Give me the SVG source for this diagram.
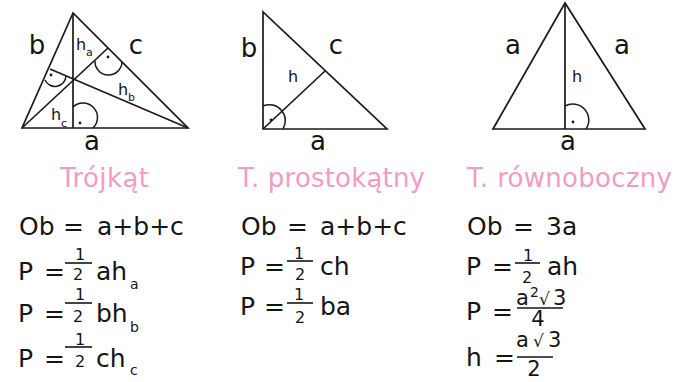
<svg xmlns="http://www.w3.org/2000/svg" width="677" height="382" viewBox="0 0 677 382">
<style>
.ln{fill:none;stroke:#1a1a1a;stroke-width:1.7;stroke-linejoin:miter}
.mk{fill:none;stroke:#1a1a1a;stroke-width:1.5}
.dot{fill:#1a1a1a}
text{font-family:"DejaVu Sans","Liberation Sans",sans-serif;fill:#151515}
.lbl{font-size:26px;text-anchor:middle}
.hl{font-size:16px}
.sub{font-size:11px}
.ttl{font-size:26px;fill:#F09CC3}
.f{font-size:25px}
.fs{font-size:14px}
.dg{font-size:16px;text-anchor:middle}
.nm{font-size:21px}
.rt{font-size:17px}
.bar{stroke:#151515;stroke-width:1.6}
</style>

<g id="tri1">
  <polygon class="ln" points="73,13 22,128 188,128"/>
  <line class="ln" x1="73" y1="13" x2="73" y2="128"/>
  <line class="ln" x1="188" y1="128" x2="50" y2="69"/>
  <line class="ln" x1="22" y1="128" x2="108" y2="48"/>
  <path class="mk" d="M73,107 A14.5 14.5 0 0 1 93,128"/>
  <path class="mk" d="M45,80 A11 11 0 0 0 66,76"/>
  <path class="mk" d="M95,61 A13 13 0 0 0 122,62"/>
  <circle class="dot" cx="80" cy="123" r="1.4"/>
  <circle class="dot" cx="51" cy="75" r="1.4"/>
  <circle class="dot" cx="108" cy="57" r="1.4"/>
  <text class="lbl" x="37" y="54">b</text>
  <text class="lbl" x="136" y="54">c</text>
  <text class="lbl" x="92" y="150">a</text>
  <text class="hl" x="76" y="50">h</text><text class="sub" x="86" y="56">a</text>
  <text class="hl" x="118" y="95">h</text><text class="sub" x="128" y="101">b</text>
  <text class="hl" x="51" y="120">h</text><text class="sub" x="61" y="127">c</text>
</g>

<g id="tri2">
  <polygon class="ln" points="263,12 263,129 387,129"/>
  <line class="ln" x1="263" y1="129" x2="325" y2="71"/>
  <path class="mk" d="M263,106 A16 16 0 0 1 283,129"/>
  <circle class="dot" cx="271" cy="120" r="1.4"/>
  <text class="lbl" x="249" y="57">b</text>
  <text class="lbl" x="336" y="54">c</text>
  <text class="hl" x="288" y="82">h</text>
  <text class="lbl" x="318" y="150">a</text>
</g>

<g id="tri3">
  <polygon class="ln" points="565,3 493,129 645,129"/>
  <line class="ln" x1="565" y1="3" x2="565" y2="129"/>
  <path class="mk" d="M565,106 A16 16 0 0 1 586,129"/>
  <circle class="dot" cx="573" cy="122" r="1.4"/>
  <text class="lbl" x="513" y="54">a</text>
  <text class="lbl" x="622" y="54">a</text>
  <text class="hl" x="572" y="82">h</text>
  <text class="lbl" x="568" y="150">a</text>
</g>

<g id="titles">
  <text class="ttl" x="60" y="187" textLength="89">Trójkąt</text>
  <text class="ttl" x="238" y="187" textLength="187">T. prostokątny</text>
  <text class="ttl" x="467" y="187" textLength="205">T. równoboczny</text>
</g>

<g id="formulas1">
  <text class="f" x="19" y="235">Ob</text><text class="f" x="63" y="235">=</text><text class="f" x="97" y="235">a+b+c</text>
  <text class="f" x="18" y="280">P</text><text class="f" x="44" y="280">=</text>
  <line class="bar" x1="65" y1="263" x2="92" y2="263"/>
  <text class="dg" x="80" y="260">1</text><text class="dg" x="78" y="280">2</text>
  <text class="f" x="96" y="280">ah</text><text class="fs" x="130" y="289">a</text>
  <text class="f" x="18" y="322">P</text><text class="f" x="44" y="322">=</text>
  <line class="bar" x1="65" y1="303" x2="92" y2="303"/>
  <text class="dg" x="80" y="300">1</text><text class="dg" x="78" y="322">2</text>
  <text class="f" x="96" y="322">bh</text><text class="fs" x="130" y="332">b</text>
  <text class="f" x="18" y="367">P</text><text class="f" x="44" y="367">=</text>
  <line class="bar" x1="65" y1="347" x2="92" y2="347"/>
  <text class="dg" x="80" y="345">1</text><text class="dg" x="80" y="367">2</text>
  <text class="f" x="96" y="367">ch</text><text class="fs" x="130" y="375">c</text>
</g>

<g id="formulas2">
  <text class="f" x="241" y="235">Ob</text><text class="f" x="287" y="235">=</text><text class="f" x="320" y="235">a+b+c</text>
  <text class="f" x="240" y="275">P</text><text class="f" x="264" y="275">=</text>
  <line class="bar" x1="287" y1="261" x2="313" y2="261"/>
  <text class="dg" x="299" y="259">1</text><text class="dg" x="300" y="280">2</text>
  <text class="f" x="320" y="275">ch</text>
  <text class="f" x="240" y="315">P</text><text class="f" x="264" y="315">=</text>
  <line class="bar" x1="287" y1="303" x2="313" y2="303"/>
  <text class="dg" x="299" y="300">1</text><text class="dg" x="300" y="323">2</text>
  <text class="f" x="320" y="315">ba</text>
</g>

<g id="formulas3">
  <text class="f" x="467" y="235">Ob</text><text class="f" x="513" y="235">=</text><text class="f" x="546" y="235">3a</text>
  <text class="f" x="466" y="275">P</text><text class="f" x="492" y="275">=</text>
  <line class="bar" x1="515" y1="263" x2="540" y2="263"/>
  <text class="dg" x="528" y="261">1</text><text class="dg" x="527" y="283">2</text>
  <text class="f" x="547" y="275">ah</text>
  <text class="f" x="466" y="320">P</text><text class="f" x="492" y="320">=</text>
  <text class="nm" x="516" y="305">a</text><text class="fs" x="530" y="297">2</text><text class="rt" x="539" y="305">√</text><text class="nm" x="553" y="305">3</text>
  <line class="bar" x1="517" y1="308" x2="563" y2="308"/>
  <text class="nm" x="538" y="326" text-anchor="middle">4</text>
  <text class="f" x="466" y="366">h</text><text class="f" x="494" y="366">=</text>
  <text class="nm" x="516" y="347">a</text><text class="rt" x="533" y="347">√</text><text class="nm" x="548" y="347">3</text>
  <line class="bar" x1="517" y1="357" x2="553" y2="357"/>
  <text class="nm" x="534" y="376" text-anchor="middle">2</text>
</g>
</svg>
